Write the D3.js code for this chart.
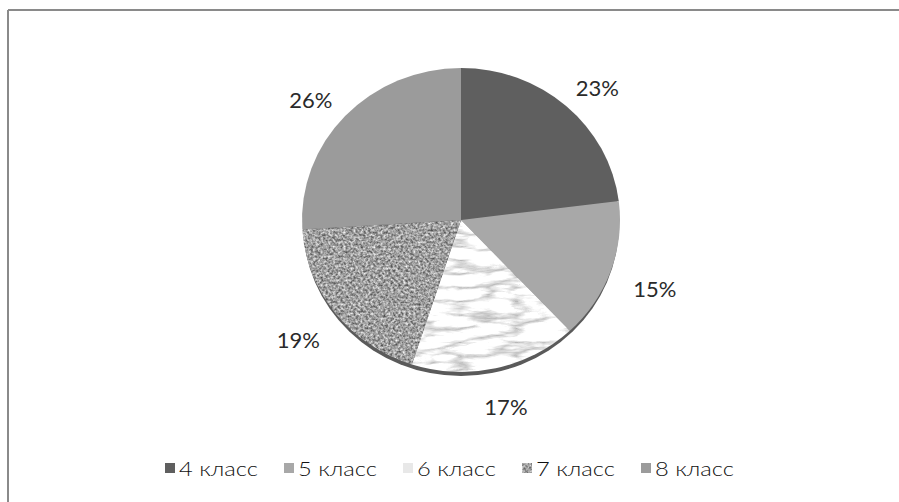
<!DOCTYPE html>
<html>
<head>
<meta charset="utf-8">
<script src="https://cdn.jsdelivr.net/npm/d3@7"></script>
<style>
  html, body { margin: 0; padding: 0; background: #fff; }
  svg { display: block; }
</style>
</head>
<body>
<svg id="chart" width="899" height="502"></svg>
<script>
const categories = ["4 класс", "5 класс", "6 класс", "7 класс", "8 класс"];
const values = [23, 15, 17, 19, 26];
const labels = ["23%", "15%", "17%", "19%", "26%"];

const W = 899, H = 502;
const cx = 461, cy = 220, rx = 159, ry = 152;
const svg = d3.select("#chart");

const defs = svg.append("defs");
// granite texture
const fg = defs.append("filter").attr("id", "granite")
  .attr("x", 0).attr("y", 0).attr("width", 1).attr("height", 1)
  .attr("filterUnits", "objectBoundingBox")
  .attr("color-interpolation-filters", "sRGB");
fg.append("feTurbulence").attr("type", "fractalNoise").attr("baseFrequency", 0.4)
  .attr("numOctaves", 2).attr("seed", 7).attr("result", "n");
fg.append("feColorMatrix").attr("in", "n").attr("type", "matrix")
  .attr("values", "0.95 0 0 0 0.15  0.95 0 0 0 0.15  0.95 0 0 0 0.15  0 0 0 0 1").attr("result", "g");
fg.append("feComposite").attr("in", "g").attr("in2", "SourceGraphic").attr("operator", "in");

// marble texture
const fm = defs.append("filter").attr("id", "marble")
  .attr("x", 0).attr("y", 0).attr("width", 1).attr("height", 1)
  .attr("filterUnits", "objectBoundingBox")
  .attr("color-interpolation-filters", "sRGB");
fm.append("feTurbulence").attr("type", "turbulence").attr("baseFrequency", "0.018 0.07")
  .attr("numOctaves", 4).attr("seed", 11).attr("result", "n");
fm.append("feColorMatrix").attr("in", "n").attr("type", "matrix")
  .attr("values", "0.8 0 0 0 0.72  0.8 0 0 0 0.72  0.8 0 0 0 0.72  0 0 0 0 1").attr("result", "g");
fm.append("feComposite").attr("in", "g").attr("in2", "SourceGraphic").attr("operator", "in");

const fills = ["#5f5f5f", "#a8a8a8", "#e6e6e6", "#9c9c9c", "#9b9b9b"];
const filters = [null, null, "url(#marble)", "url(#granite)", null];
const swatch = ["#5f5f5f", "#a8a8a8", "#e8e8e8", "#a8a8a8", "#9b9b9b"];

// frame (top and left only, as in reference)
svg.append("line").attr("x1", 8).attr("x2", W).attr("y1", 10).attr("y2", 10)
  .attr("stroke", "#8a8a8a").attr("stroke-width", 2);
svg.append("line").attr("x1", 8).attr("x2", 8).attr("y1", 10).attr("y2", H)
  .attr("stroke", "#8a8a8a").attr("stroke-width", 2);

const pie = d3.pie().sort(null).value(d => d)(values);
const arc = d3.arc().innerRadius(0).outerRadius(rx);

// 3D rim
svg.append("ellipse").attr("cx", cx).attr("cy", cy + 4).attr("rx", rx - 1).attr("ry", ry)
  .attr("fill", "#5a5a5a");

const g = svg.append("g").attr("transform", `translate(${cx},${cy}) scale(1,${ry / rx})`);
g.selectAll("path").data(pie).join("path")
  .attr("d", arc)
  .attr("fill", (d, i) => fills[i])
  .attr("filter", (d, i) => filters[i]);

// labels
const lrx = 206, lry = 185, lcy = cy + 6;
svg.selectAll("text.lbl").data(pie).join("text")
  .attr("class", "lbl")
  .attr("x", d => cx + lrx * Math.sin((d.startAngle + d.endAngle) / 2))
  .attr("y", d => lcy - lry * Math.cos((d.startAngle + d.endAngle) / 2))
  .attr("text-anchor", "middle")
  .attr("dominant-baseline", "central")
  .attr("font-family", "Lato, 'Open Sans', sans-serif")
  .attr("font-size", 22)
  .attr("fill", "#2a2a2a")
  .text((d, i) => labels[i]);

// legend
const lx = d3.scaleBand().domain(categories).range([165, 165 + 119 * 5]);
const lg = svg.append("g").selectAll("g").data(categories).join("g")
  .attr("transform", d => `translate(${lx(d)},463)`);
lg.append("rect").attr("width", 10).attr("height", 10)
  .attr("fill", (d, i) => swatch[i])
  .attr("filter", (d, i) => i === 3 ? "url(#granite)" : null);
lg.append("text").attr("x", 14).attr("y", 5)
  .attr("dominant-baseline", "central")
  .attr("font-family", "Lato, 'Open Sans', sans-serif")
  .attr("font-weight", 300)
  .attr("font-size", 20)
  .attr("fill", "#111")
  .attr("textLength", 79).attr("lengthAdjust", "spacingAndGlyphs")
  .text(d => d);
</script>
</body>
</html>
